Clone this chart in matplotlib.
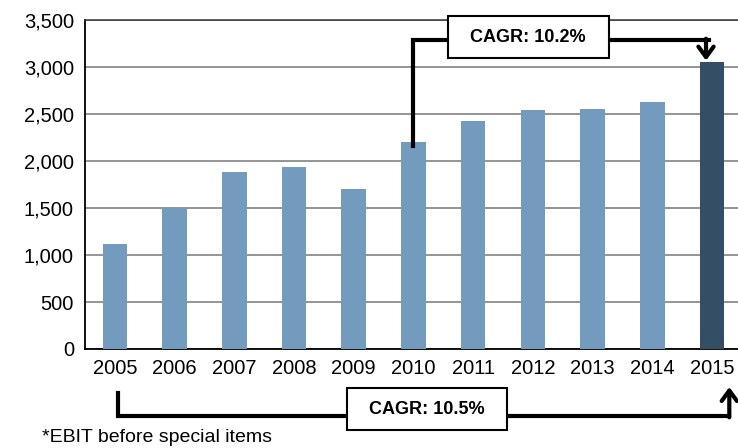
import matplotlib.pyplot as plt
from matplotlib.patches import Rectangle
from matplotlib.ticker import FuncFormatter

plt.rcParams['font.family'] = ['Liberation Sans', 'DejaVu Sans']

anos = ['2005', '2006', '2007', '2008', '2009', '2010', '2011', '2012', '2013', '2014', '2015']
ebit = [1120, 1500, 1880, 1935, 1700, 2200, 2425, 2545, 2555, 2630, 3055]
colores = ['#739BBE'] * 10 + ['#344E66']

fig = plt.figure(figsize=(7.38, 4.48), dpi=100)
ax = fig.add_axes([0.1152, 0.221, 0.89, 0.734])

x = list(range(len(anos)))
ax.bar(x, ebit, width=0.41, color=colores, zorder=3)
ax.set_xlim(-0.5, 10.5)
ax.set_ylim(0, 3500)
ax.set_yticks(range(0, 3501, 500))
ax.yaxis.set_major_formatter(FuncFormatter(lambda v, p: f"{int(v):,}"))
ax.set_xticks(x)
ax.set_xticklabels(anos)
ax.tick_params(length=0, labelsize=14.5, pad=7)
ax.tick_params(axis='y', pad=8)
ax.yaxis.grid(True, color='#8c8c8c', lw=1.3, zorder=0)
for s in ['left', 'bottom']:
    ax.spines[s].set_color('black')
    ax.spines[s].set_linewidth(1.3)
ax.spines['top'].set_color('#333333')
ax.spines['top'].set_linewidth(1.1)
ax.spines['right'].set_visible(False)

flecha = dict(arrowstyle='->,head_length=0.75,head_width=0.55', lw=3, color='black',
              shrinkA=0, shrinkB=0)


def caja(x0, x1, y0, y1, texto, xt, yt):
    ax.add_patch(Rectangle((x0, y0), x1 - x0, y1 - y0, fc='white', ec='black',
                           lw=1.5, clip_on=False, zorder=6))
    ax.text(xt, yt, texto, ha='center', va='center', fontsize=13,
            fontweight='bold', zorder=7)


# corchete superior 2010 -> 2015
y_sup = 3287
ax.plot([5, 5, 9.95], [2160, y_sup, y_sup], color='black', lw=3, clip_on=False,
        solid_joinstyle='miter', zorder=5)
ax.annotate('', xy=(9.9, 3070), xytext=(9.9, y_sup + 15), arrowprops=flecha,
            annotation_clip=False, zorder=5)
caja(5.58, 8.27, 3096, 3543, 'CAGR: 10.2%', 6.92, 3315)

# corchete inferior 2005 -> 2015
y_inf = -712
ax.plot([0.05, 0.05, 10.29], [-468, y_inf, y_inf], color='black', lw=3, clip_on=False,
        solid_joinstyle='miter', zorder=5)
ax.annotate('', xy=(10.29, -405), xytext=(10.29, y_inf - 15), arrowprops=flecha,
            annotation_clip=False, zorder=5)
caja(3.89, 6.57, -862, -415, 'CAGR: 10.5%', 5.23, -643)

fig.text(0.057, 0.024, '*EBIT before special items', fontsize=14, va='center')

fig.savefig('out.png', dpi=100)
